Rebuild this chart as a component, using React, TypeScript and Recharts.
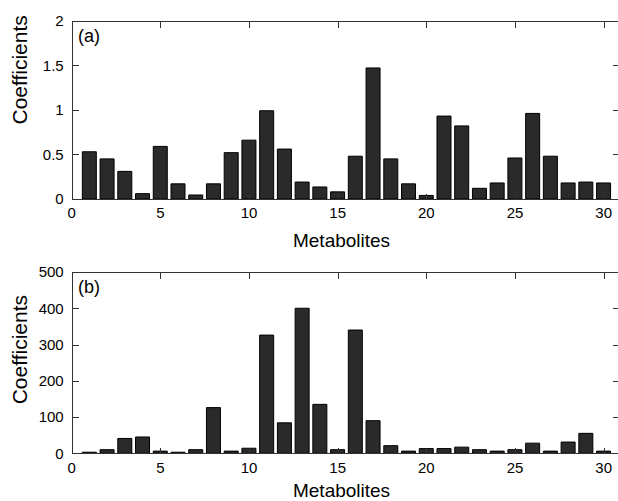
import { BarChart, Bar, XAxis, YAxis } from "recharts";

// metabolite index along the x axis
const metabolites = [
  1, 2, 3, 4, 5, 6, 7, 8, 9, 10, 11, 12, 13, 14, 15,
  16, 17, 18, 19, 20, 21, 22, 23, 24, 25, 26, 27, 28, 29, 30,
];

// panel (a) coefficients
const coefficientsA = [
  0.53, 0.45, 0.31, 0.06, 0.59, 0.17, 0.045, 0.17, 0.52, 0.66,
  0.99, 0.56, 0.19, 0.135, 0.08, 0.48, 1.47, 0.45, 0.17, 0.04,
  0.93, 0.82, 0.12, 0.18, 0.46, 0.96, 0.48, 0.18, 0.19, 0.18,
];

// panel (b) coefficients
const coefficientsB = [
  3, 10, 41, 45, 6, 3, 10, 126, 6, 14,
  326, 84, 400, 135, 10, 340, 90, 21, 6, 13,
  13, 17, 10, 6, 10, 28, 6, 31, 55, 6,
];

const xTicks = [0, 5, 10, 15, 20, 25, 30];
const yTicksA = [0, 0.5, 1, 1.5, 2];
const yTicksB = [0, 100, 200, 300, 400, 500];

const FONT = "Arial, 'Liberation Sans', Helvetica, sans-serif";
const AXIS = "#333";
const X_MAX = 31;
const PAGE_W = 618;
const PAGE_H = 501;
const Y_AXIS_W = 60;
const X_AXIS_H = 30;
const TICK_LEN = 6;

type Margin = { top: number; right: number; bottom: number; left: number };

// plot rectangle of a panel, in that panel's own coordinates
function plotBox(height: number, margin: Margin) {
  return {
    left: margin.left + Y_AXIS_W,
    right: PAGE_W - margin.right,
    top: margin.top,
    bottom: height - margin.bottom - X_AXIS_H,
  };
}

// x tick label only; the marks are drawn by the frame overlay
const XTick = ({ x, payload, plotBottom }: any) => (
  <text x={x} y={plotBottom + 19.3} textAnchor="middle" fontSize={15} fontFamily={FONT} fill="#000">
    {payload.value}
  </text>
);

const YTick = ({ y, payload, plotLeft }: any) => (
  <text x={plotLeft - 8} y={y} dy="0.36em" textAnchor="end" fontSize={15} fontFamily={FONT} fill="#000">
    {payload.value}
  </text>
);

interface PanelProps {
  values: number[];
  yTicks: number[];
  yMax: number;
  tag: string;
  top: number;
  height: number;
  margin: Margin;
  titleShift: number;
  xTitleDrop: number;
}

function Panel({ values, yTicks, yMax, tag, top, height, margin, titleShift, xTitleDrop }: PanelProps) {
  const rows = metabolites.map((m, i) => ({ metabolite: m, coef: values[i] }));
  const box = plotBox(height, margin);

  return (
    <div style={{ position: "absolute", left: 0, top }}>
      <BarChart width={PAGE_W} height={height} data={rows} margin={margin} barCategoryGap="10%">
        <XAxis
          type="number"
          dataKey="metabolite"
          domain={[0, X_MAX]}
          ticks={xTicks}
          interval={0}
          allowDataOverflow
          height={X_AXIS_H}
          axisLine={false}
          tickLine={false}
          tickSize={0}
          tickMargin={0}
          tick={<XTick plotBottom={box.bottom} />}
          label={() => (
            <text
              x={(box.left + box.right) / 2 - 5}
              y={box.bottom + X_AXIS_H + xTitleDrop}
              textAnchor="middle"
              fontSize={19}
              fontFamily={FONT}
              fill="#000"
            >
              Metabolites
            </text>
          )}
        />
        <YAxis
          type="number"
          domain={[0, yMax]}
          ticks={yTicks}
          interval={0}
          allowDataOverflow
          width={Y_AXIS_W}
          axisLine={false}
          tickLine={false}
          tickSize={0}
          tickMargin={0}
          tick={<YTick plotLeft={box.left} />}
          label={() => {
            const cx = 27;
            const cy = (box.top + box.bottom) / 2 + titleShift;
            return (
              <text
                x={cx}
                y={cy}
                transform={`rotate(-90, ${cx}, ${cy})`}
                textAnchor="middle"
                fontSize={21}
                fontFamily={FONT}
                fill="#000"
              >
                Coefficients
              </text>
            );
          }}
        />
        <Bar dataKey="coef" fill="#2a2a2a" stroke="#000" strokeWidth={1} isAnimationActive={false} />
        <text x={78} y={box.top + 21} fontSize={18} fontFamily={FONT} fill="#000">
          {tag}
        </text>
      </BarChart>
    </div>
  );
}

// closed box with inward ticks on all four sides, laid over a panel
function Frame({ top, height, margin, yMax, yTicks }: { top: number; height: number; margin: Margin; yMax: number; yTicks: number[] }) {
  const b = plotBox(height, margin);
  const sx = (v: number) => b.left + (v / X_MAX) * (b.right - b.left);
  const sy = (v: number) => b.bottom - (v / yMax) * (b.bottom - b.top);
  const crisp = (p: number) => Math.round(p) + 0.5;
  const L = crisp(b.left);
  const R = crisp(b.right);
  const T = crisp(b.top);
  const B = crisp(b.bottom);

  return (
    <g transform={`translate(0, ${top})`} stroke={AXIS} strokeWidth={1} fill="none" shapeRendering="crispEdges">
      <rect x={L} y={T} width={R - L} height={B - T} />
      {xTicks.map((t) => (
        <g key={`x${t}`}>
          <line x1={crisp(sx(t))} x2={crisp(sx(t))} y1={B} y2={B - TICK_LEN} />
          <line x1={crisp(sx(t))} x2={crisp(sx(t))} y1={T} y2={T + TICK_LEN} />
        </g>
      ))}
      {yTicks.map((t) => (
        <g key={`y${t}`}>
          <line x1={L} x2={L + TICK_LEN} y1={crisp(sy(t))} y2={crisp(sy(t))} />
          <line x1={R} x2={R - TICK_LEN - 3} y1={crisp(sy(t))} y2={crisp(sy(t))} />
        </g>
      ))}
    </g>
  );
}

const marginA: Margin = { top: 20.7, right: -3.4, bottom: 21, left: 11.7 };
const marginB: Margin = { top: 22, right: -3.4, bottom: 17.7, left: 11.7 };

export default function App() {
  return (
    <div style={{ position: "relative", width: PAGE_W, height: PAGE_H, overflow: "hidden", background: "#fff" }}>
      <style>{"body { margin: 0; }"}</style>
      <Panel
        values={coefficientsA}
        yTicks={yTicksA}
        yMax={2}
        tag="(a)"
        top={0}
        height={250}
        margin={marginA}
        titleShift={-40}
        xTitleDrop={17.5}
      />
      <Panel
        values={coefficientsB}
        yTicks={yTicksB}
        yMax={500}
        tag="(b)"
        top={250}
        height={251}
        margin={marginB}
        titleShift={-13}
        xTitleDrop={14}
      />
      <svg
        width={PAGE_W}
        height={PAGE_H}
        style={{ position: "absolute", left: 0, top: 0, zIndex: 2, pointerEvents: "none" }}
      >
        <Frame top={0} height={250} margin={marginA} yMax={2} yTicks={yTicksA} />
        <Frame top={250} height={251} margin={marginB} yMax={500} yTicks={yTicksB} />
      </svg>
    </div>
  );
}
